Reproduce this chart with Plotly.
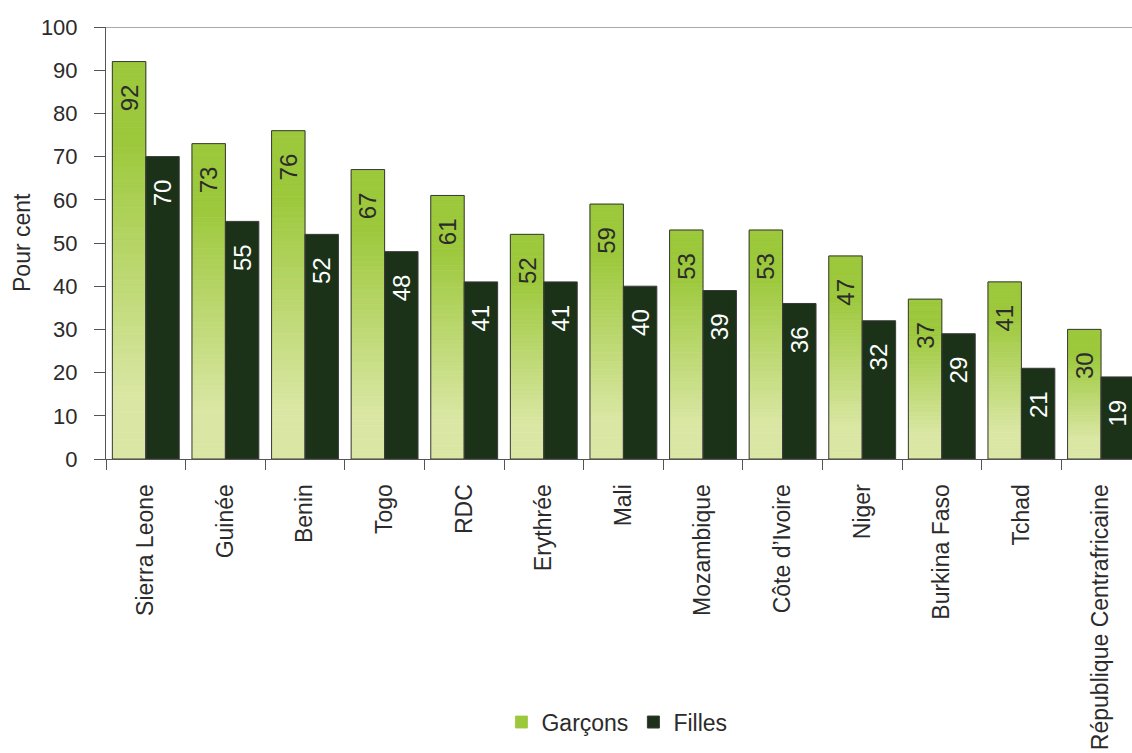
import plotly.graph_objects as go

# Taux par pays (pour cent)
pays = ["Sierra Leone", "Guinée", "Benin", "Togo", "RDC", "Erythrée", "Mali",
        "Mozambique", "Côte d’Ivoire", "Niger", "Burkina Faso", "Tchad",
        "République Centrafricaine"]
garcons = [92, 73, 76, 67, 61, 52, 59, 53, 53, 47, 37, 41, 30]
filles = [70, 55, 52, 48, 41, 41, 40, 39, 36, 32, 29, 21, 19]

FONT = "Liberation Sans"
TXT = "#2b2b2b"
EDGE = "#3a3a3a"
GREEN_TOP = (156, 200, 59)
GREEN_LOW = (218, 231, 164)
DARK = "#1b3219"

N_SEG = 60
PAD = "\u00a0" * 3  # keeps the value labels a little below the bar tops


def shade(t_from_top):
    """Vertical gradient: solid green near the top, pale toward the base."""
    a, b = 0.2, 0.85
    if t_from_top <= a:
        f = 0.0
    elif t_from_top >= b:
        f = 1.0
    else:
        f = (t_from_top - a) / (b - a)
    c = [round(GREEN_TOP[i] + (GREEN_LOW[i] - GREEN_TOP[i]) * f) for i in range(3)]
    return "rgb({},{},{})".format(*c)


fig = go.Figure()

# Gradient body of the boys' bars, built as stacked slices of each value
for k in range(N_SEG - 1, -1, -1):
    t = 1 - (k + 0.5) / N_SEG
    col = shade(t)
    fig.add_trace(go.Bar(
        x=pays,
        y=[v / N_SEG for v in garcons],
        base=[v * k / N_SEG for v in garcons],
        offsetgroup="g",
        marker=dict(color=col, line=dict(color=col, width=0.8)),
        name="Garçons",
        showlegend=(k == N_SEG - 1),
        legendgroup="g",
        hoverinfo="skip",
    ))

fig.add_trace(go.Bar(
    x=pays, y=filles, offsetgroup="f", name="Filles",
    marker=dict(color=DARK, line=dict(color=EDGE, width=1)),
    text=[str(v) + PAD for v in filles], textposition="inside",
    insidetextanchor="end", textangle=-90, constraintext="none",
    textfont=dict(family=FONT, size=24, color="white"),
))

# Outline and value labels of the boys' bars
fig.add_trace(go.Bar(
    x=pays, y=garcons, offsetgroup="g", showlegend=False,
    marker=dict(color="rgba(0,0,0,0)", line=dict(color=EDGE, width=1)),
    text=[str(v) + PAD for v in garcons], textposition="inside",
    insidetextanchor="end", textangle=-90, constraintext="none",
    textfont=dict(family=FONT, size=24, color=TXT),
    hoverinfo="skip",
))

L, T, B = 106, 27, 294
W, H = 1132, 753
plot_w = W - L

fig.update_layout(
    width=W, height=H,
    margin=dict(l=L, r=0, t=T, b=B),
    plot_bgcolor="white", paper_bgcolor="white",
    barmode="group", bargap=0.16, bargroupgap=0,
    font=dict(family=FONT, size=22, color=TXT),
    showlegend=True,
    legend=dict(orientation="h", x=0.498, xanchor="center", y=-0.609,
                yanchor="middle", font=dict(family=FONT, size=23, color=TXT),
                traceorder="normal"),
    shapes=[dict(type="line", xref="paper", yref="y", x0=-11 / plot_w, x1=1,
                 y0=100, y1=100, line=dict(color="#555", width=1))],
    annotations=[dict(text="Pour cent", textangle=-90, xref="paper", yref="paper",
                      x=(22 - L) / plot_w, y=0.5, xanchor="center", yanchor="middle",
                      showarrow=False, font=dict(family=FONT, size=23, color=TXT))],
)

fig.update_xaxes(
    type="category", range=[-0.5, -0.5 + plot_w / 79.6],
    tickson="boundaries", ticks="outside", ticklen=10, tickcolor="#555",
    showline=True, linecolor="#555", linewidth=1, showgrid=False,
    tickangle=-90, ticklabelstandoff=15,
    tickfont=dict(family=FONT, size=23, color=TXT),
)
fig.update_yaxes(
    range=[0, 100], dtick=10, ticks="outside", ticklen=11, tickcolor="#555",
    showline=True, linecolor="#555", linewidth=1, showgrid=False, zeroline=False,
    ticklabelstandoff=12,
    tickfont=dict(family=FONT, size=22, color=TXT),
)

fig.write_html("out.html")
